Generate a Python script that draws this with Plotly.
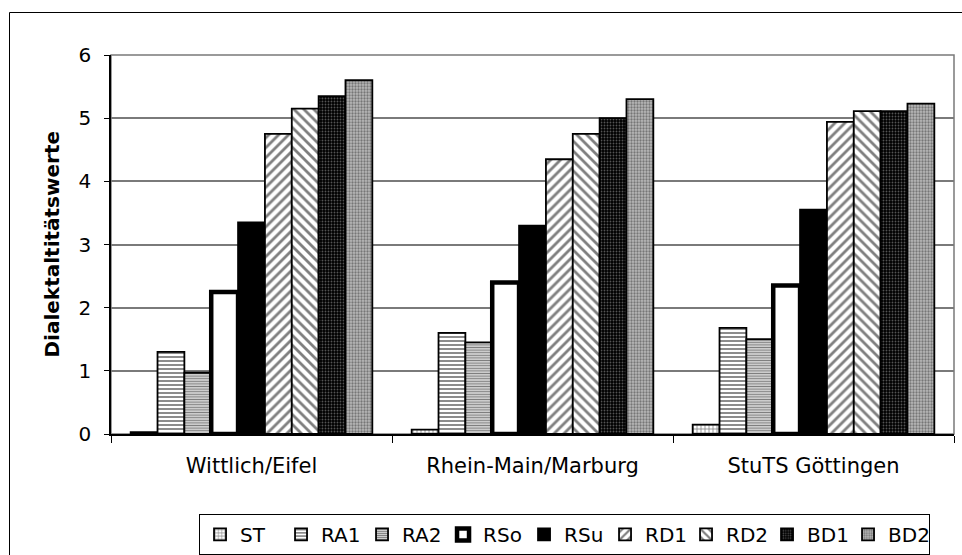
import plotly.graph_objects as go

# Regions (x categories)
regions = ["Wittlich/Eifel", "Rhein-Main/Marburg", "StuTS Göttingen"]

# Mean dialectality score per speech level, one list per series (same order as regions)
ST = [0.03, 0.07, 0.15]
RA1 = [1.30, 1.60, 1.68]
RA2 = [0.97, 1.45, 1.50]
RSo = [2.25, 2.40, 2.35]
RSu = [3.35, 3.30, 3.55]
RD1 = [4.75, 4.35, 4.94]
RD2 = [5.15, 4.75, 5.11]
BD1 = [5.35, 5.00, 5.11]
BD2 = [5.60, 5.30, 5.23]

series_names = ["ST", "RA1", "RA2", "RSo", "RSu", "RD1", "RD2", "BD1", "BD2"]
series_values = [ST, RA1, RA2, RSo, RSu, RD1, RD2, BD1, BD2]

y_ticks = [0, 1, 2, 3, 4, 5, 6]

# Monochrome fill style for each series
styles = {
    "ST":  dict(color="white", pattern=dict(shape="+", fgcolor="black", bgcolor="white", size=4, solidity=0.35), lw=1.8),
    "RA1": dict(color="white", pattern=dict(shape="-", fgcolor="black", bgcolor="white", size=4, solidity=0.45), lw=1.8),
    "RA2": dict(color="white", pattern=dict(shape="-", fgcolor="black", bgcolor="white", size=2.6, solidity=0.6), lw=1.8),
    "RSo": dict(color="white", pattern=None, lw=4.5),
    "RSu": dict(color="black", pattern=None, lw=1.8),
    "RD1": dict(color="white", pattern=dict(shape="/", fgcolor="black", bgcolor="white", size=7, solidity=0.4), lw=1.8),
    "RD2": dict(color="white", pattern=dict(shape="\\", fgcolor="black", bgcolor="white", size=7, solidity=0.4), lw=1.8),
    "BD1": dict(color="black", pattern=dict(shape=".", fgcolor="#a8a8a8", bgcolor="black", size=3, solidity=0.3), lw=1.8),
    "BD2": dict(color="#999999", pattern=dict(shape=".", fgcolor="#333333", bgcolor="#b8b8b8", size=3, solidity=0.45), lw=1.8),
}

FONT = "DejaVu Sans, Arial, sans-serif"

fig = go.Figure()
for name, vals in zip(series_names, series_values):
    st = styles[name]
    marker = dict(color=st["color"], line=dict(color="black", width=st["lw"]))
    if st["pattern"] is not None:
        marker["pattern"] = st["pattern"]
    fig.add_trace(go.Bar(name=name, x=regions, y=vals, marker=marker))

fig.update_layout(
    width=962,
    height=555,
    barmode="group",
    bargap=0.14,
    bargroupgap=0,
    paper_bgcolor="white",
    plot_bgcolor="white",
    margin=dict(l=111, r=8, t=55, b=121, autoexpand=False),
    font=dict(family=FONT, size=20, color="black"),
    showlegend=True,
    legend=dict(
        orientation="h",
        x=0.538, xanchor="center",
        y=-0.211, yanchor="top",
        bordercolor="black", borderwidth=1,
        bgcolor="white",
        font=dict(family=FONT, size=20, color="black"),
        entrywidth=36, entrywidthmode="pixels",
        itemwidth=30,
        tracegroupgap=0,
    ),
    xaxis=dict(
        showline=True, linecolor="black", linewidth=1.5,
        ticks="outside", tickson="boundaries", ticklen=7, tickcolor="black", tickwidth=1,
        showgrid=False,
        tickfont=dict(family=FONT, size=21, color="black"),
        ticklabelstandoff=12,
    ),
    yaxis=dict(
        range=[0, 6],
        tickvals=y_ticks,
        showline=True, linecolor="black", linewidth=1.5,
        ticks="outside", ticklen=5, tickcolor="black", tickwidth=1,
        showgrid=True, gridcolor="#7a7a7a", gridwidth=1.5,
        zeroline=False,
        tickfont=dict(family=FONT, size=20, color="black"),
        ticklabelstandoff=9,
    ),
    annotations=[
        dict(
            text="<b>Dialektaltitätswerte</b>",
            xref="paper", yref="paper",
            x=(51 - 111) / 843, y=0.5,
            xanchor="center", yanchor="middle",
            textangle=-90, showarrow=False,
            font=dict(family=FONT, size=20, color="black"),
        )
    ],
    shapes=[
        # plot area frame (top and right edge in grey)
        dict(type="rect", xref="paper", yref="paper", x0=0, x1=1, y0=0, y1=1,
             line=dict(color="#7a7a7a", width=1.5), layer="below"),
        # outer chart border
        dict(type="rect", xref="paper", yref="paper",
             x0=(9.5 - 111) / 843, x1=1.2, y0=-0.4, y1=(434 - 12.5) / 379,
             line=dict(color="black", width=1), layer="below"),
    ],
)

fig.write_html("out.html")
